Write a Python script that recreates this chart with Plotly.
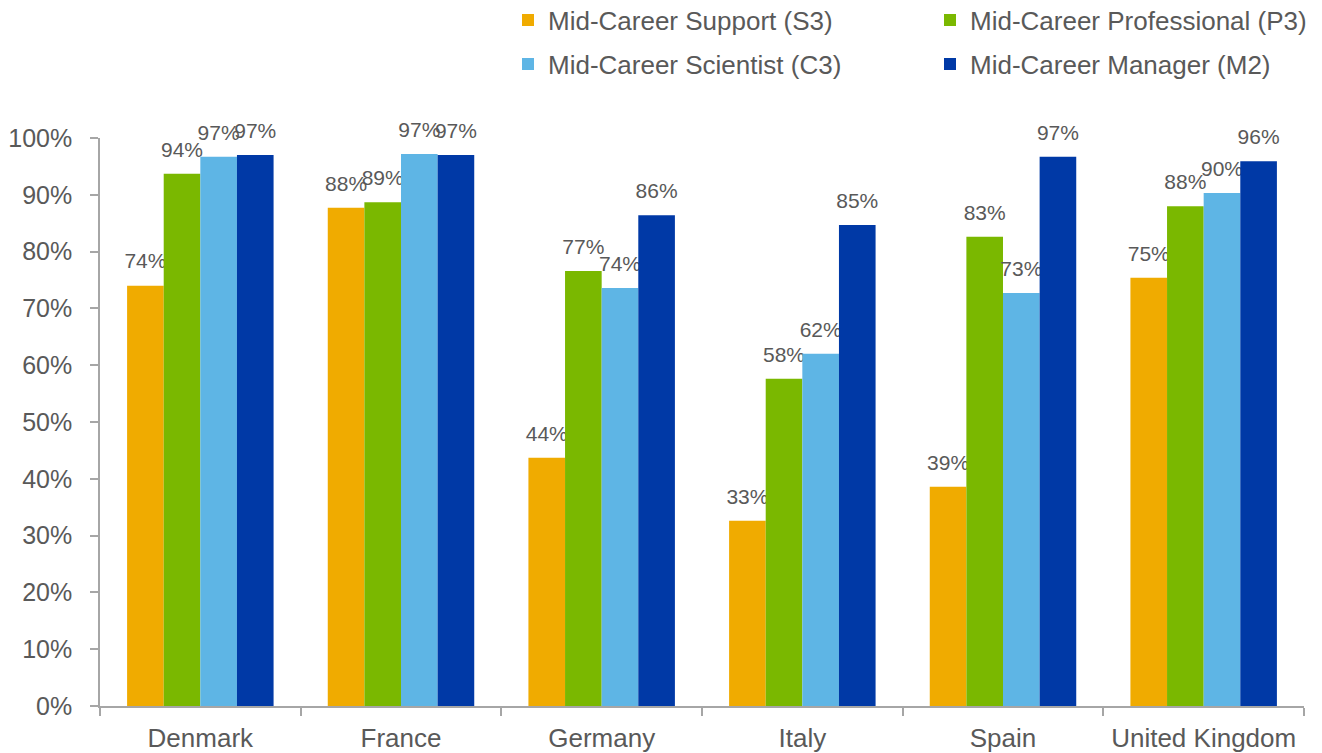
import plotly.graph_objects as go

countries = ["Denmark", "France", "Germany", "Italy", "Spain", "United Kingdom"]
series_names = ["Mid-Career Support (S3)", "Mid-Career Professional (P3)",
                "Mid-Career Scientist (C3)", "Mid-Career Manager (M2)"]
support_s3 = [0.74, 0.877, 0.437, 0.326, 0.386, 0.754]
professional_p3 = [0.937, 0.887, 0.766, 0.576, 0.826, 0.880]
scientist_c3 = [0.967, 0.972, 0.736, 0.620, 0.727, 0.903]
manager_m2 = [0.970, 0.970, 0.864, 0.847, 0.967, 0.959]
colors = ["#F0AB00", "#7AB800", "#5EB5E5", "#0039A6"]
legend_ids = ["legend", "legend3", "legend2", "legend4"]
groups = ["s3", "p3", "c3", "m2"]

values = [support_s3, professional_p3, scientist_c3, manager_m2]
label_gap = 0.018  # visual spacing between bar top and its label (style)

FONT = "Liberation Sans, Arial"
GREY = "#595959"
W, H = 1314, 745  # page body adds an 8px margin around the figure

fig = go.Figure()
for name, vals, col, lg, grp in zip(series_names, values, colors, legend_ids, groups):
    fig.add_trace(go.Bar(
        x=countries, y=vals, name=name, marker_color=col,
        marker_line_width=0, offsetgroup=grp, legend=lg,
        hovertemplate="%{x}: %{y:.0%}<extra>" + name + "</extra>",
    ))
    # transparent spacer that carries the value label a little above the bar
    fig.add_trace(go.Bar(
        x=countries, y=[label_gap] * len(vals), base=vals,
        offsetgroup=grp, showlegend=False, hoverinfo="skip",
        marker_color="rgba(0,0,0,0)", marker_line_width=0,
        text=[f"{round(v*100):.0f}%" for v in vals],
        textposition="outside", constraintext="none", cliponaxis=False,
        textfont=dict(size=21, color=GREY, family=FONT),
    ))

legend_common = dict(
    orientation="h", xref="container", yref="container",
    font=dict(size=26, color=GREY, family=FONT),
    bgcolor="rgba(0,0,0,0)", borderwidth=0,
    yanchor="middle", xanchor="left",
)

fig.update_layout(
    width=W, height=H,
    margin=dict(l=92, r=18, t=130, b=47),
    paper_bgcolor="white", plot_bgcolor="white",
    barmode="group", bargap=0.27, bargroupgap=0,
    font=dict(family=FONT, color=GREY),
    legend=dict(**legend_common, x=500/W, y=1-12/H),
    legend2=dict(**legend_common, x=500/W, y=1-56/H),
    legend3=dict(**legend_common, x=922/W, y=1-12/H),
    legend4=dict(**legend_common, x=922/W, y=1-56/H),
    xaxis=dict(
        showline=True, linecolor="#A6A6A6", linewidth=1.5,
        ticks="outside", ticklen=8, tickcolor="#A6A6A6", tickwidth=1.5,
        tickson="boundaries", showgrid=False, automargin=False,
        ticklabelstandoff=8,
        tickfont=dict(size=26, color=GREY),
    ),
    yaxis=dict(
        range=[0, 1], tickformat=".0%", dtick=0.1,
        showline=True, linecolor="#A6A6A6", linewidth=1.5,
        ticks="outside", ticklen=8, tickcolor="#A6A6A6", tickwidth=1.5,
        showgrid=False, zeroline=False, ticklabelstandoff=13, automargin=False,
        tickfont=dict(size=25, color=GREY),
    ),
)

fig.write_html("out.html")
